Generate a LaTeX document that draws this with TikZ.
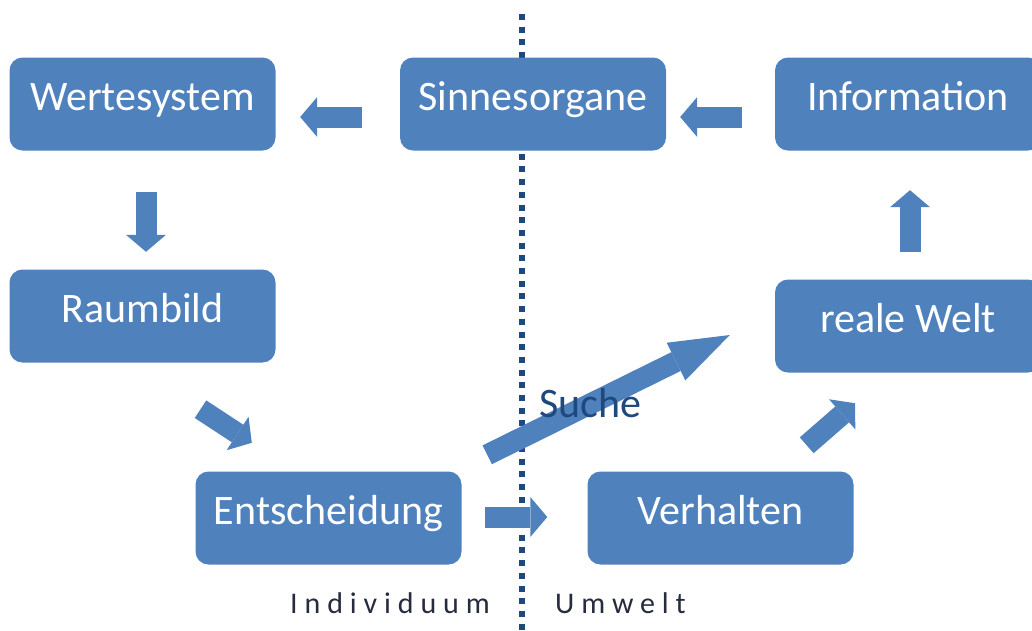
\documentclass[tikz,border=0pt]{standalone}
\usepackage{fontspec}
\setmainfont{Carlito}
\newfontfamily\spacedfont[LetterSpace=23]{Carlito}
\usetikzlibrary{arrows.meta,calc}
\definecolor{boxblue}{HTML}{4F81BD}
\definecolor{lineblue}{HTML}{1F497D}
\definecolor{labelgray}{HTML}{262B3D}

\begin{document}
\begin{tikzpicture}[x=1pt,y=-1pt,
    box/.style={rectangle,rounded corners=13pt,fill=boxblue,text=white,minimum width=266pt,minimum height=93pt,inner sep=0pt,text height=30pt,text depth=18pt,font=\fontsize{42}{50}\selectfont},
    blockarrow/.style={line width=21pt,draw=boxblue,-{Triangle[width=40pt,length=17pt,line width=0pt]}},
    bigarrow/.style={line width=21pt,draw=boxblue,-{Triangle[width=42pt,length=60pt,line width=0pt]}},
    divider/.style={lineblue,line width=6pt,dash pattern=on 6pt off 6.7pt},
    sidelabel/.style={anchor=base west,inner sep=0pt,text=labelgray,font=\spacedfont\fontsize{30}{36}\selectfont}]
    \useasboundingbox (0,0) rectangle (1032,630);

    % Dividing line between Individuum and Umwelt
    \coordinate (divtop) at (522,14);
    \coordinate (divbot) at (522,632);
    \draw[divider] (divtop) -- (divbot);

    % Boxes
    \node[box] (wert) at (142.5,104) {Wertesystem};
    \node[box] (sinn) at (533,104) {Sinnesorgane};
    \node[box] (info) at (908,104) {Information};
    \node[box] (raum) at (142.5,316) {Raumbild};
    \node[box] (welt) at (908,326) {reale Welt};
    \node[box] (ent) at (328.5,518) {Entscheidung};
    \node[box] (verh) at (720.5,518) {Verhalten};

    % Arrows
    \draw[blockarrow,shorten <=38pt,shorten >=24.5pt] ([yshift=-13pt]sinn.west) -- ([yshift=-13pt]wert.east);
    \draw[blockarrow,shorten <=33pt,shorten >=14pt] ([yshift=-13pt]info.west) -- ([yshift=-13pt]sinn.east);
    \draw[blockarrow,shorten <=41.5pt,shorten >=17.5pt] ([xshift=3.5pt]wert.south) -- ([xshift=3.5pt]raum.north);
    \draw[blockarrow] ([shift={(58,46.5)}]raum.south) -- ([shift={(56.5,-28.5)}]ent.north west);
    \draw[bigarrow] ([shift={(25.5,-16.5)}]ent.north east) -- ([shift={(-45,9)}]welt.west);
    \draw[blockarrow,shorten <=23.5pt,shorten >=40pt] ([yshift=1pt]ent.east) -- ([yshift=1pt]verh.west);
    \draw[blockarrow] ([shift={(-47,-26)}]verh.north east) -- ([shift={(-53,30.5)}]welt.south);
    \draw[blockarrow,shorten <=27.5pt,shorten >=39.5pt] ([xshift=2pt]welt.north) -- ([xshift=2pt]info.south);

    % Labels
    \node[anchor=base west,inner sep=0pt,text=lineblue,font=\fontsize{42}{50}\selectfont] (suche) at (539,417) {Suche};
    \node[sidelabel] (indiv) at (290,613) {Individuum};
    \node[sidelabel] (umwelt) at (555,613) {Umwelt};
\end{tikzpicture}
\end{document}
